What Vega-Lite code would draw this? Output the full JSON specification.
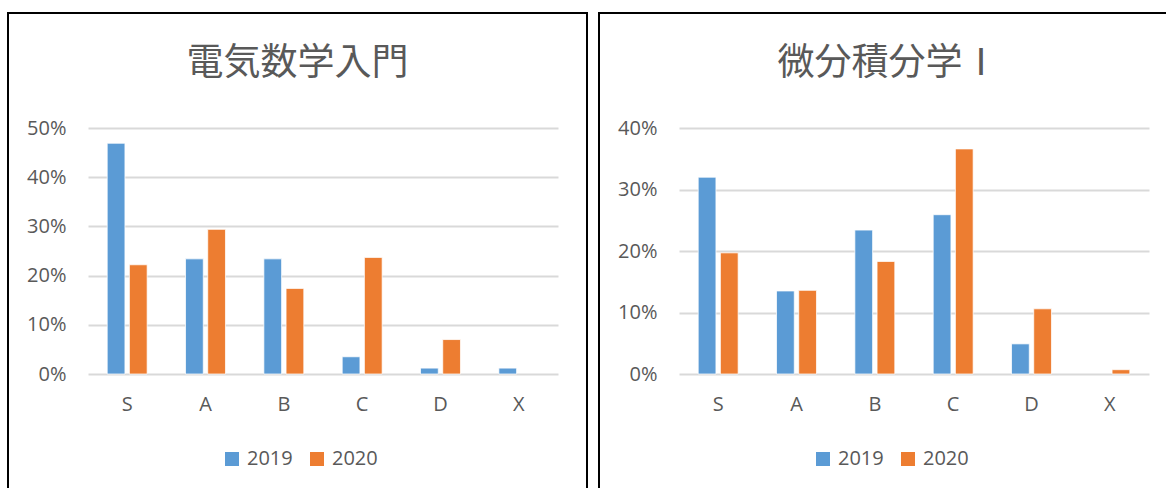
{
  "$schema": "https://vega.github.io/schema/vega-lite/v6.json",
  "padding": {"left": 7, "top": 12, "right": 0, "bottom": 0},
  "background": "white",
  "config": {
    "view": {"stroke": "black", "strokeWidth": 2},
    "font": "Open Sans",
    "axis": {"labelColor": "#595959", "labelFontSize": 20, "labelFont": "Open Sans", "gridColor": "#D9D9D9", "gridWidth": 2, "gridOpacity": 1, "ticks": false, "domain": false, "title": null},
    "legend": {"labelColor": "#595959", "labelFontSize": 20, "labelFont": "Open Sans"},
    "title": {"font": "Noto Sans CJK JP", "fontSize": 37, "fontWeight": "normal", "color": "#595959", "anchor": "middle", "frame": "group"}
  },
  "datasets": {
    "denki": [
      {"grade": "S", "year": "2019", "rate": 0.469},
      {"grade": "S", "year": "2020", "rate": 0.222},
      {"grade": "A", "year": "2019", "rate": 0.234},
      {"grade": "A", "year": "2020", "rate": 0.294},
      {"grade": "B", "year": "2019", "rate": 0.234},
      {"grade": "B", "year": "2020", "rate": 0.174},
      {"grade": "C", "year": "2019", "rate": 0.035},
      {"grade": "C", "year": "2020", "rate": 0.237},
      {"grade": "D", "year": "2019", "rate": 0.012},
      {"grade": "D", "year": "2020", "rate": 0.070},
      {"grade": "X", "year": "2019", "rate": 0.012}
    ],
    "bibun": [
      {"grade": "S", "year": "2019", "rate": 0.320},
      {"grade": "S", "year": "2020", "rate": 0.197},
      {"grade": "A", "year": "2019", "rate": 0.135},
      {"grade": "A", "year": "2020", "rate": 0.136},
      {"grade": "B", "year": "2019", "rate": 0.234},
      {"grade": "B", "year": "2020", "rate": 0.183},
      {"grade": "C", "year": "2019", "rate": 0.259},
      {"grade": "C", "year": "2020", "rate": 0.366},
      {"grade": "D", "year": "2019", "rate": 0.049},
      {"grade": "D", "year": "2020", "rate": 0.106},
      {"grade": "X", "year": "2020", "rate": 0.007}
    ]
  },
  "spacing": 10,
  "resolve": {"scale": {"color": "independent", "x": "independent", "y": "independent", "xOffset": "independent"}, "legend": {"color": "independent"}},
  "hconcat": [
    {
      "width": 579,
      "height": 490,
      "title": {"text": "電気数学入門", "offset": -70},
      "data": {"name": "denki"},
      "mark": {"type": "bar", "stroke": "white", "strokeWidth": 0.75},
      "encoding": {
        "x": {"field": "grade", "type": "nominal", "sort": ["S", "A", "B", "C", "D", "X"],
              "scale": {"range": [80, 550], "paddingInner": 0.49, "paddingOuter": 0.245},
              "axis": {"labelAngle": 0, "offset": -129, "labelPadding": 20, "grid": false}},
        "xOffset": {"field": "year", "type": "nominal", "sort": ["2019", "2020"], "scale": {"paddingInner": 0.2, "paddingOuter": 0}},
        "y": {"field": "rate", "type": "quantitative",
              "scale": {"domain": [0, 0.5], "range": [361, 115], "nice": false, "zero": true},
              "axis": {"format": ".0%", "values": [0, 0.1, 0.2, 0.3, 0.4, 0.5], "offset": -58, "labelPadding": 0, "grid": true}},
        "color": {"field": "year", "type": "nominal",
                  "scale": {"domain": ["2019", "2020"], "range": ["#5B9BD5", "#ED7D31"]},
                  "legend": {"orient": "none", "legendX": 214, "legendY": 436, "direction": "horizontal", "title": null, "symbolType": "square", "symbolSize": 196, "symbolStrokeWidth": 0, "symbolOpacity": 1, "labelOffset": 5, "columnPadding": 14}}
      }
    },
    {
      "width": 579,
      "height": 490,
      "title": {"text": "微分積分学Ⅰ", "offset": -70},
      "data": {"name": "bibun"},
      "mark": {"type": "bar", "stroke": "white", "strokeWidth": 0.75},
      "encoding": {
        "x": {"field": "grade", "type": "nominal", "sort": ["S", "A", "B", "C", "D", "X"],
              "scale": {"range": [80, 550], "paddingInner": 0.49, "paddingOuter": 0.245},
              "axis": {"labelAngle": 0, "offset": -129, "labelPadding": 20, "grid": false}},
        "xOffset": {"field": "year", "type": "nominal", "sort": ["2019", "2020"], "scale": {"paddingInner": 0.2, "paddingOuter": 0}},
        "y": {"field": "rate", "type": "quantitative",
              "scale": {"domain": [0, 0.4], "range": [361, 115], "nice": false, "zero": true},
              "axis": {"format": ".0%", "values": [0, 0.1, 0.2, 0.3, 0.4], "offset": -58, "labelPadding": 0, "grid": true}},
        "color": {"field": "year", "type": "nominal",
                  "scale": {"domain": ["2019", "2020"], "range": ["#5B9BD5", "#ED7D31"]},
                  "legend": {"orient": "none", "legendX": 214, "legendY": 436, "direction": "horizontal", "title": null, "symbolType": "square", "symbolSize": 196, "symbolStrokeWidth": 0, "symbolOpacity": 1, "labelOffset": 5, "columnPadding": 14}}
      }
    }
  ]
}
